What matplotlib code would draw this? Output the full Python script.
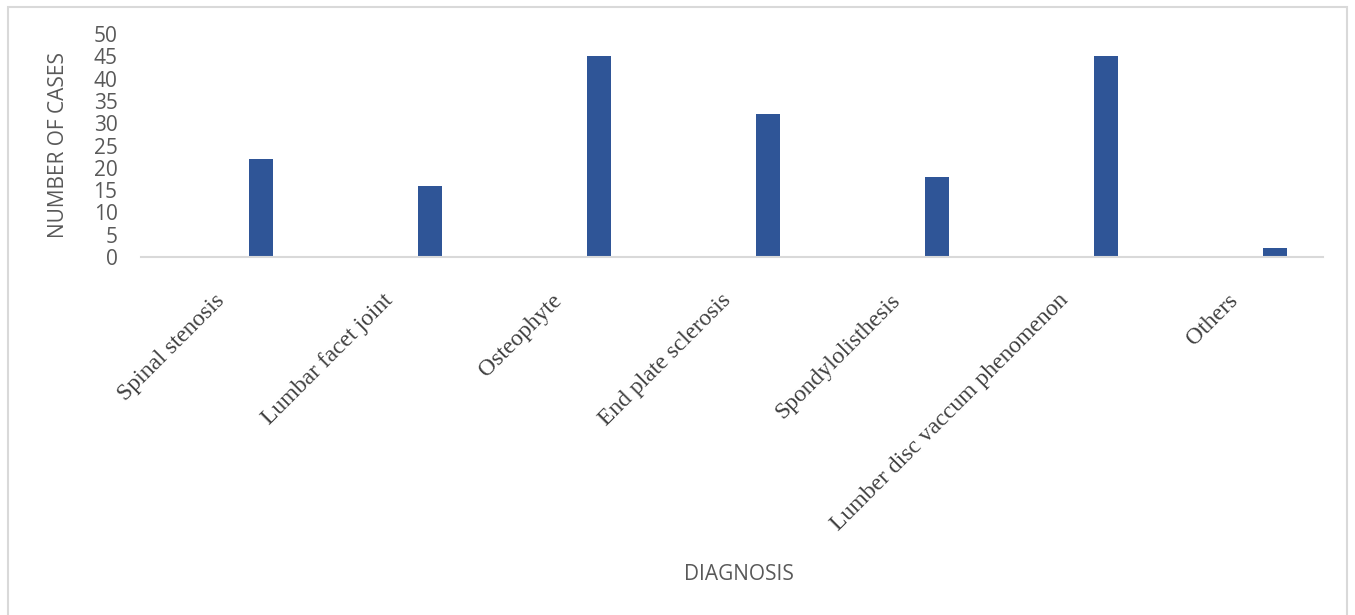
import matplotlib.pyplot as plt
from matplotlib.patches import Rectangle
from matplotlib.transforms import ScaledTranslation
import numpy as np

diagnoses = ["Spinal stenosis", "Lumbar facet joint", "Osteophyte", "End plate sclerosis",
             "Spondylolisthesis", "Lumber disc vaccum phenomenon", "Others"]
cases = [22, 16, 45, 32, 18, 45, 2]
y_ticks = [0, 5, 10, 15, 20, 25, 30, 35, 40, 45, 50]

BAR_COLOR = "#2F5597"
GRID_GRAY = "#D9D9D9"
TEXT_GRAY = "#595959"

fig = plt.figure(figsize=(13.55, 6.15), dpi=100)
ax = fig.add_axes([0.1041, 0.5821, 0.8723, 0.3626])

# chart area border (runs off the bottom of the page)
fig.patches.append(Rectangle((8 / 1355, -0.2), 1339 / 1355, 1.2 - 7 / 615,
                             transform=fig.transFigure, fill=False,
                             edgecolor=GRID_GRAY, linewidth=1.5))

x = np.arange(len(diagnoses))
ax.bar(x + 0.213, cases, width=0.142, color=BAR_COLOR)

ax.set_xlim(-0.5, len(diagnoses) - 0.5)
ax.set_ylim(0, 50)
ax.set_yticks(y_ticks)
ax.set_yticklabels([str(v) for v in y_ticks], fontfamily="Open Sans", fontsize=15, color=TEXT_GRAY)
ax.set_xticks(x, labels=[""] * len(diagnoses))
ax.tick_params(axis="y", length=0, pad=17)
ax.tick_params(axis="x", length=0)

# category names, slanted, ending just under each slot centre
label_trans = ax.get_xaxis_transform() + ScaledTranslation(-0.115, -0.33, fig.dpi_scale_trans)
for xi, name in zip(x, diagnoses):
    ax.text(xi, 0, name, transform=label_trans, rotation=45, rotation_mode="anchor",
            ha="right", va="top", fontfamily="Liberation Serif", fontsize=17, color="#404040")

for side in ["top", "right", "left"]:
    ax.spines[side].set_visible(False)
ax.spines["bottom"].set_color(GRID_GRAY)
ax.spines["bottom"].set_linewidth(1.5)

fig.text(58 / 1355, 1 - 145 / 615, "NUMBER OF CASES", rotation=90, ha="center", va="center",
         fontfamily="Open Sans", fontsize=15, color=TEXT_GRAY)
fig.text(739 / 1355, 1 - 575 / 615, "DIAGNOSIS", ha="center", va="center",
         fontfamily="Open Sans", fontsize=15, color=TEXT_GRAY)

fig.savefig("out.png", dpi=100)
